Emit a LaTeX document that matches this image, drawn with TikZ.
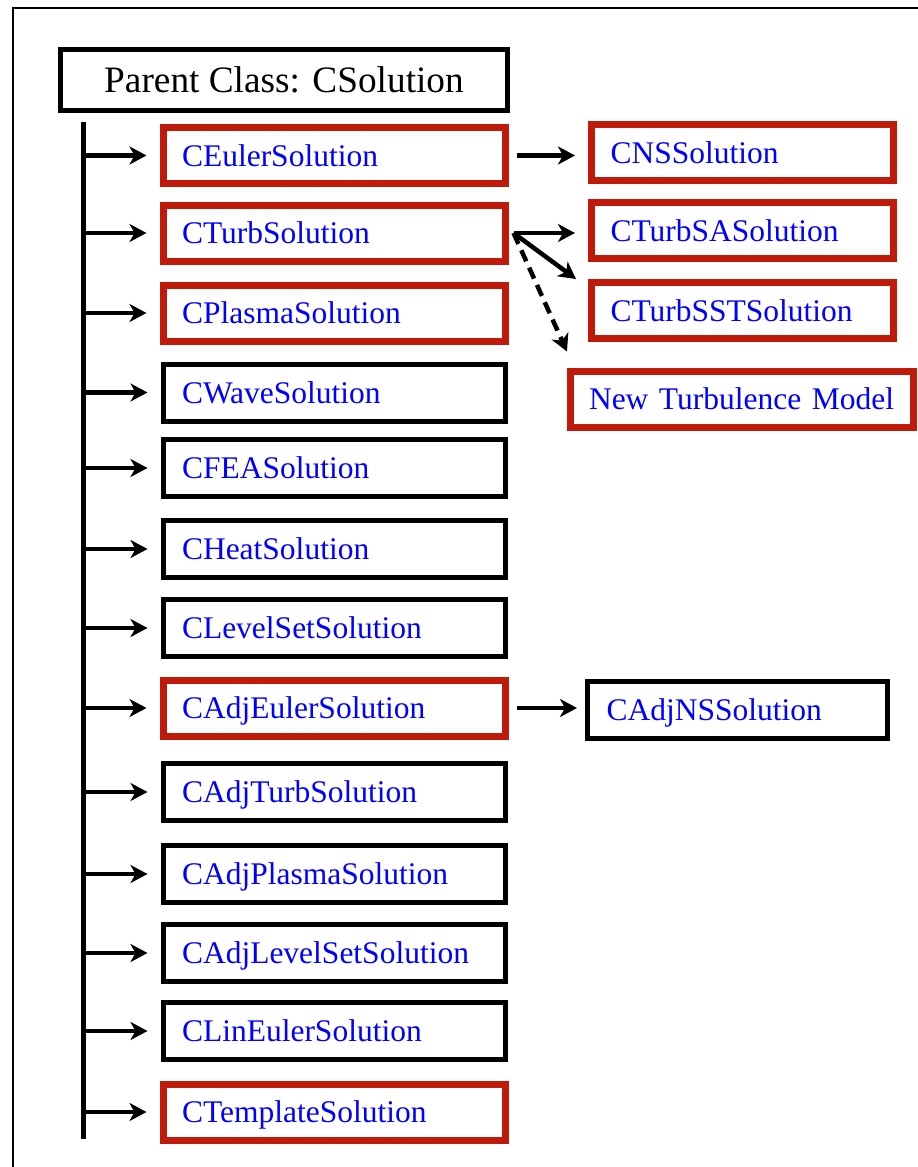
\documentclass[tikz,border=0pt]{standalone}
\usepackage{fontspec}
\setmainfont{Liberation Serif}
\usetikzlibrary{arrows.meta}
\definecolor{boxred}{RGB}{192,26,10}
\definecolor{clsblue}{RGB}{0,0,255}

\tikzstyle{parent} = [rectangle,draw,line width=4.5pt,minimum width=447pt,minimum height=61pt,inner sep=0pt,text height=24pt,text depth=0pt,font=\fontsize{37.3}{40}\selectfont]
\tikzstyle{cls} = [rectangle,draw,line width=5pt,minimum height=57pt,inner xsep=19pt,inner ysep=0pt,text height=21pt,text depth=0pt,align=left,text=clsblue,font=\fontsize{31.5}{36}\selectfont]
\tikzstyle{derived} = [cls,draw=boxred,line width=7pt,minimum height=56pt]
\tikzstyle{arr} = [-{Stealth[length=17pt,width=18pt,inset=5pt]},line width=4.5pt]

\begin{document}
\begin{tikzpicture}[x=1pt,y=-1pt]
	\useasboundingbox (0,0) rectangle (918,1167);
	\draw[line width=2pt] (13,1167) -- (13,8) -- (918,8);
	\node[parent] (P) at (284,80) {Parent Class: CSolution};
	\coordinate (trunktop) at (83,122);
	\coordinate (trunkbot) at (83,1139);
	\draw[line width=5pt] (trunktop) -- (trunkbot);
	\foreach \nm/\txt/\stl/\yy in {
		eu/CEulerSolution/derived/155.5,
		tb/CTurbSolution/derived/233,
		pl/CPlasmaSolution/derived/313,
		wv/CWaveSolution/cls/392.5,
		fe/CFEASolution/cls/468,
		ht/CHeatSolution/cls/549,
		ls/CLevelSetSolution/cls/628,
		ae/CAdjEulerSolution/derived/708,
		at/CAdjTurbSolution/cls/792,
		ap/CAdjPlasmaSolution/cls/874,
		al/CAdjLevelSetSolution/cls/953,
		le/CLinEulerSolution/cls/1031,
		tp/CTemplateSolution/derived/1112}
	{\node[\stl,text width=304pt] (\nm) at (334,\yy) {\txt};
	 \draw[arr,shorten >=13pt] (\nm.west -| trunktop) -- (\nm.west);}
	% derived classes
	\node[derived,text width=264pt] (ns) at (742.5,152.5) {CNSSolution};
	\node[derived,text width=264pt] (sa) at (742.5,230.5) {CTurbSASolution};
	\node[derived,text width=264pt] (sst) at (742.5,310.5) {CTurbSSTSolution};
	\node[derived,text width=306pt,inner xsep=18.5pt] (ntm) at (742,399) {\mbox{New Turbulence Model}};
	\node[cls,text width=262pt] (an) at (737.5,710) {CAdjNSSolution};
	\draw[arr,shorten <=8pt,shorten >=13pt] (eu.east) -- (eu.east -| ns.west);
	\coordinate (fork) at ([xshift=5pt]tb.east);
	\draw[arr,shorten >=13pt] (fork) -- (fork -| sa.west);
	\draw[arr] (fork) -- ([xshift=-12pt]sst.north west);
	\draw[arr,dash pattern=on 12pt off 7pt] (fork) -- ([yshift=16pt]ntm.north west);
	\draw[arr,shorten <=8pt,shorten >=8pt] (ae.east) -- (ae.east -| an.west);
\end{tikzpicture}
\end{document}
